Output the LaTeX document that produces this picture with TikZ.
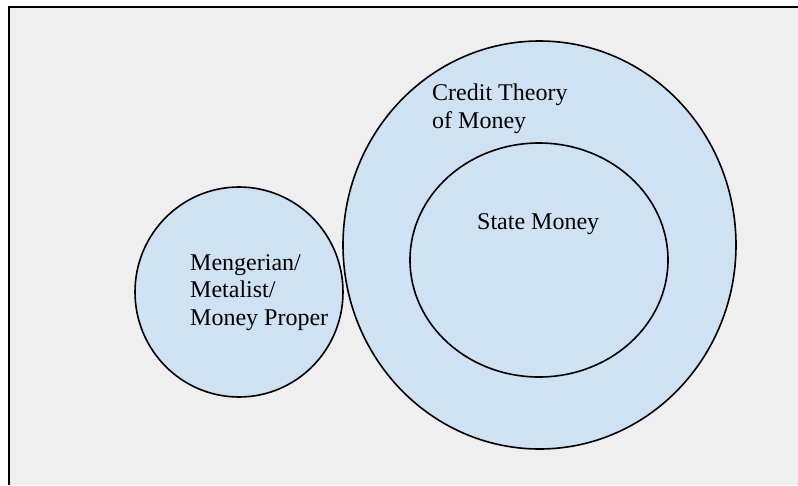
\documentclass[tikz,border=0pt]{standalone}
\usepackage{fontspec}
\setmainfont{Liberation Serif}
\usetikzlibrary{shapes.geometric}
\definecolor{bggray}{HTML}{EFEFEF}
\definecolor{lightblue}{HTML}{CFE2F3}
\tikzset{
  blob/.style={ellipse, draw=black, line width=1.6pt, fill=lightblue, inner sep=0pt},
  lbl/.style={font=\fontsize{24}{27.5}\selectfont, align=left, inner sep=0pt, anchor=base west}
}
\begin{document}
\begin{tikzpicture}[x=1pt,y=-1pt]
\useasboundingbox (0,0) rectangle (798,485);
\fill[bggray] (8.5,7) rectangle (798,485);
\draw[line width=2pt] (8.5,485) -- (8.5,7) -- (798,7);
\node[blob, minimum width=208pt, minimum height=210pt] (small) at (239,292) {};
\node[blob, minimum width=393pt, minimum height=408pt] (big) at (539.5,245) {};
\node[blob, minimum width=258pt, minimum height=234pt] (inner) at (539,260) {};
\node[lbl] (mt) at (190,325) {Mengerian/\\Metalist/\\Money Proper};
\node[lbl] (ct) at (432,128) {Credit Theory\\of Money};
\node[lbl] (sm) at (477,229) {State Money};
\end{tikzpicture}
\end{document}
